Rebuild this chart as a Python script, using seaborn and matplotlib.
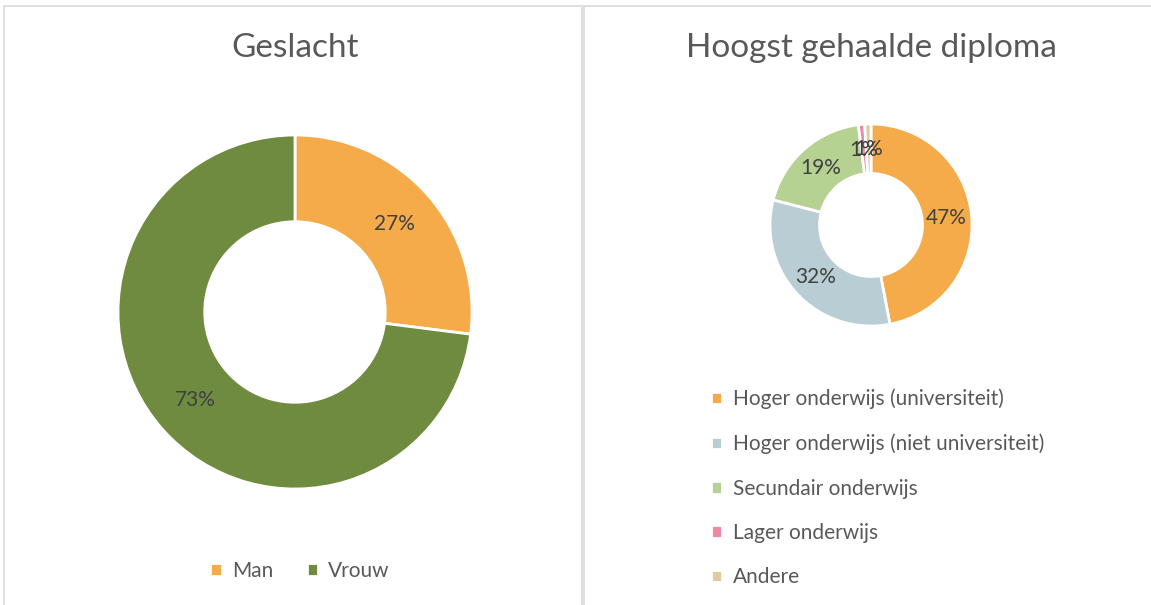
import matplotlib
matplotlib.use('Agg')
import matplotlib.pyplot as plt
import matplotlib.patches as patches
import seaborn as sns

# ================================================================
# data

genderLabels = ['Man', 'Vrouw']
genderValues = [27, 73]
genderColors = ['#F5AB4A', '#6F8B40']

diplomaLabels = ['Hoger onderwijs (universiteit)', 'Hoger onderwijs (niet universiteit)',
                 'Secundair onderwijs', 'Lager onderwijs', 'Andere']
diplomaValues = [47, 32, 19, 1, 1]
diplomaColors = ['#F5AB4A', '#B9CDD5', '#B6D292', '#EF88A7', '#E3CA9B']

# ================================================================

sns.set_theme(style='white')
plt.rcParams['font.family'] = ['Lato', 'DejaVu Sans']
textGray = '#595959'

W, H = 1151, 605
fig = plt.figure(figsize=(W / 100, H / 100), dpi=100)

# chart boxes (bottom and far right run off the picture)
for x0, x1 in [(4, 582), (584, 1160)]:
    fig.patches.append(patches.Rectangle((x0 / W, -0.02), (x1 - x0) / W, (H - 6) / H + 0.02,
                                         transform=fig.transFigure, fill=False,
                                         edgecolor='#D9D9D9', linewidth=1.2))


def donut(cx, cy, r, values, colors):
    ax = fig.add_axes([(cx - r) / W, (H - cy - r) / H, 2 * r / W, 2 * r / H])
    wedges, texts, autotexts = ax.pie(values, colors=colors, startangle=90, counterclock=False,
                                      radius=1, autopct=lambda p: '%.0f%%' % p, pctdistance=0.75,
                                      wedgeprops=dict(width=0.49, edgecolor='white', linewidth=2))
    for t in autotexts:
        t.set_color('#404040')
        t.set_fontsize(15)
    ax.set_xlim(-1, 1)
    ax.set_ylim(-1, 1)
    ax.set_aspect('equal')
    ax.axis('off')
    return ax, wedges


axL, wedgesL = donut(295, 312, 177, genderValues, genderColors)
axR, wedgesR = donut(871, 225, 101, diplomaValues, diplomaColors)

fig.text(295 / W, 1 - 48 / H, 'Geslacht', ha='center', va='center', fontsize=24, color=textGray)
fig.text(871 / W, 1 - 48 / H, 'Hoogst gehaalde diploma', ha='center', va='center', fontsize=24, color=textGray)

legL = fig.legend(wedgesL, genderLabels, loc='center', bbox_to_anchor=(300 / W, 1 - 571 / H),
                  ncol=2, frameon=False, fontsize=15, handlelength=0.55, handleheight=0.55,
                  handletextpad=0.5, columnspacing=1.6)
for t in legL.get_texts():
    t.set_color(textGray)

legR = fig.legend(wedgesR, diplomaLabels, loc='upper left', bbox_to_anchor=(692 / W, 1 - 370 / H),
                  ncol=1, frameon=False, fontsize=15, handlelength=0.55, handleheight=0.55,
                  handletextpad=0.5, labelspacing=1.17)
for t in legR.get_texts():
    t.set_color(textGray)

fig.savefig('out.png', dpi=100)
plt.close(fig)
